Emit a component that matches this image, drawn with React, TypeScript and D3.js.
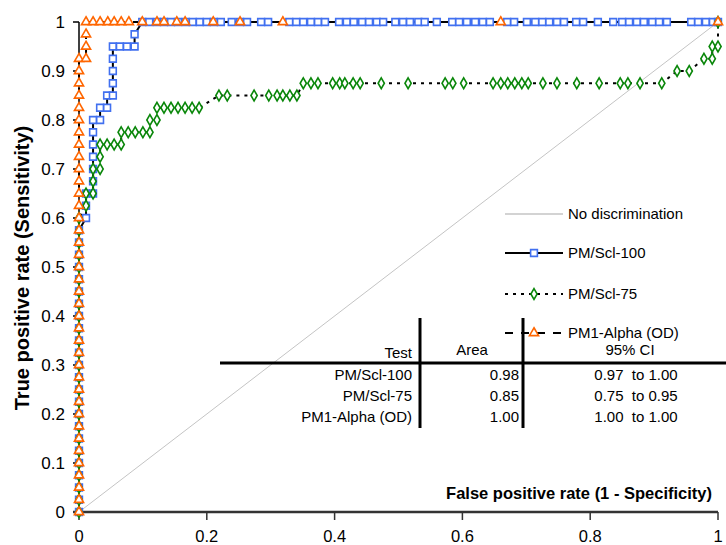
import React from 'react';
import * as d3 from 'd3';

// ROC points [fpr, tpr]
const pmScl100: [number, number][] = [
  [0, 0], [0, 0.025], [0, 0.05], [0, 0.075], [0, 0.1], [0, 0.125], [0, 0.15], [0, 0.175],
  [0, 0.2], [0, 0.225], [0, 0.25], [0, 0.275], [0, 0.3], [0, 0.325], [0, 0.35], [0, 0.375],
  [0, 0.4], [0, 0.425], [0, 0.45], [0, 0.475], [0, 0.5], [0, 0.525], [0, 0.55], [0, 0.575],
  [0.011, 0.6], [0.011, 0.625], [0.011, 0.65], [0.022, 0.65], [0.022, 0.675], [0.022, 0.7],
  [0.022, 0.725], [0.022, 0.75], [0.022, 0.775], [0.022, 0.8], [0.033, 0.8], [0.033, 0.825],
  [0.044, 0.825], [0.044, 0.85], [0.053, 0.85], [0.053, 0.875], [0.053, 0.9], [0.053, 0.925],
  [0.053, 0.95], [0.064, 0.95], [0.075, 0.95], [0.087, 0.95], [0.087, 0.975], [0.099, 1],
  [0.11, 1], [0.122, 1], [0.133, 1], [0.144, 1], [0.155, 1], [0.167, 1], [0.178, 1], [0.189, 1],
  [0.2, 1], [0.211, 1], [0.222, 1], [0.239, 1], [0.252, 1], [0.263, 1], [0.285, 1], [0.296, 1],
  [0.329, 1], [0.34, 1], [0.351, 1], [0.363, 1], [0.374, 1], [0.385, 1], [0.407, 1], [0.419, 1],
  [0.43, 1], [0.443, 1], [0.454, 1], [0.466, 1], [0.476, 1], [0.495, 1], [0.507, 1], [0.518, 1],
  [0.531, 1], [0.541, 1], [0.56, 1], [0.584, 1], [0.595, 1], [0.607, 1], [0.62, 1], [0.632, 1],
  [0.643, 1], [0.67, 1], [0.681, 1], [0.701, 1], [0.714, 1], [0.725, 1], [0.736, 1], [0.748, 1],
  [0.759, 1], [0.778, 1], [0.789, 1], [0.812, 1], [0.836, 1], [0.85, 1], [0.861, 1], [0.873, 1],
  [0.884, 1], [0.897, 1], [0.908, 1], [0.92, 1], [0.958, 1], [0.969, 1], [0.981, 1], [0.992, 1],
  [1, 1],
];

const pmScl75: [number, number][] = [
  [0, 0], [0, 0.025], [0, 0.05], [0, 0.075], [0, 0.1], [0, 0.125], [0, 0.15], [0, 0.175],
  [0, 0.2], [0, 0.225], [0, 0.25], [0, 0.275], [0, 0.3], [0, 0.325], [0, 0.35], [0, 0.375],
  [0, 0.4], [0, 0.425], [0, 0.45], [0, 0.475], [0, 0.5], [0, 0.525], [0, 0.55], [0, 0.575],
  [0, 0.6], [0.011, 0.625], [0.011, 0.65], [0.022, 0.65], [0.022, 0.675], [0.022, 0.7],
  [0.033, 0.7], [0.033, 0.725], [0.033, 0.75], [0.044, 0.75], [0.055, 0.75], [0.066, 0.75],
  [0.066, 0.775], [0.077, 0.775], [0.088, 0.775], [0.1, 0.775], [0.111, 0.775], [0.111, 0.8],
  [0.122, 0.8], [0.122, 0.825], [0.133, 0.825], [0.144, 0.825], [0.155, 0.825], [0.166, 0.825],
  [0.177, 0.825], [0.188, 0.825], [0.219, 0.85], [0.232, 0.85], [0.274, 0.85], [0.297, 0.85],
  [0.31, 0.85], [0.319, 0.85], [0.33, 0.85], [0.341, 0.85], [0.351, 0.875], [0.363, 0.875],
  [0.374, 0.875], [0.397, 0.875], [0.408, 0.875], [0.416, 0.875], [0.429, 0.875], [0.44, 0.875],
  [0.473, 0.875], [0.515, 0.875], [0.573, 0.875], [0.585, 0.875], [0.602, 0.875], [0.648, 0.875],
  [0.66, 0.875], [0.671, 0.875], [0.682, 0.875], [0.693, 0.875], [0.703, 0.875], [0.726, 0.875],
  [0.748, 0.875], [0.779, 0.875], [0.814, 0.875], [0.847, 0.875], [0.859, 0.875], [0.878, 0.875],
  [0.912, 0.875], [0.936, 0.9], [0.955, 0.9], [0.978, 0.925], [0.991, 0.925], [0.991, 0.95],
  [1, 0.95], [1, 1],
];

const pm1Alpha: [number, number][] = [
  [0, 0], [0, 0.025], [0, 0.05], [0, 0.075], [0, 0.1], [0, 0.125], [0, 0.15], [0, 0.175],
  [0, 0.2], [0, 0.225], [0, 0.25], [0, 0.275], [0, 0.3], [0, 0.325], [0, 0.35], [0, 0.375],
  [0, 0.4], [0, 0.425], [0, 0.45], [0, 0.475], [0, 0.5], [0, 0.525], [0, 0.55], [0, 0.575],
  [0, 0.6], [0, 0.625], [0, 0.65], [0, 0.675], [0, 0.7], [0, 0.725], [0, 0.75], [0, 0.775],
  [0, 0.8], [0, 0.825], [0, 0.85], [0, 0.875], [0, 0.9], [0, 0.925],
  [0.011, 0.925], [0.011, 0.95], [0.011, 0.975], [0.011, 1], [0.022, 1], [0.033, 1], [0.045, 1],
  [0.055, 1], [0.066, 1], [0.078, 1], [0.099, 1], [0.122, 1], [0.133, 1], [0.153, 1], [0.166, 1],
  [0.21, 1], [0.252, 1], [0.319, 1], [0.66, 1], [1, 1],
];

const xTicks = [0, 0.2, 0.4, 0.6, 0.8, 1];
const yTicks = [0, 0.1, 0.2, 0.3, 0.4, 0.5, 0.6, 0.7, 0.8, 0.9, 1];

const legendLabels = ['No discrimination', 'PM/Scl-100', 'PM/Scl-75', 'PM1-Alpha (OD)'];
const tableTests = ['PM/Scl-100', 'PM/Scl-75', 'PM1-Alpha (OD)'];
const tableAreas = ['0.98', '0.85', '1.00'];
const tableCIs = ['0.97  to 1.00', '0.75  to 0.95', '1.00  to 1.00'];

const FONT = '"Liberation Sans", Arial, sans-serif';

const series = [
  { name: 'PM/Scl-100', data: pmScl100, colour: '#4170f0', symbol: d3.symbolSquare, size: 46, dash: 'none' },
  { name: 'PM/Scl-75', data: pmScl75, colour: '#0a870a', symbol: d3.symbolDiamond, size: 34, dash: '3 5' },
  { name: 'PM1-Alpha (OD)', data: pm1Alpha, colour: '#ff6600', symbol: d3.symbolTriangle, size: 36, dash: '8 8' },
];

const App = () => {
  const x = d3.scaleLinear().domain([0, 1]).range([79, 718]);
  const y = d3.scaleLinear().domain([0, 1]).range([512, 22]);
  const line = d3.line<[number, number]>().x(d => x(d[0])).y(d => y(d[1]));

  const legendY = [214, 253, 294, 333];
  const rowY = [375, 396, 417];

  return (
    <svg width={726} height={545} style={{ position: 'absolute', left: 0, top: 0, background: '#fff' }}
      fontFamily={FONT}>
      {/* diagonal */}
      <line x1={x(0)} y1={y(0)} x2={x(1)} y2={y(1)} stroke="#c4c4c4" strokeWidth={1} />

      {/* y axis */}
      <line x1={x(0)} y1={y(0)} x2={x(0)} y2={y(1)} stroke="#000" strokeWidth={1.5} />
      {yTicks.map(t => (
        <g key={t}>
          <line x1={x(0) - 6} x2={x(0)} y1={y(t)} y2={y(t)} stroke="#000" strokeWidth={1.5} />
          <text x={65} y={y(t)} dy="0.35em" textAnchor="end" fontSize={17}>{t}</text>
        </g>
      ))}

      {/* x axis */}
      <line x1={x(0) - 6} y1={y(0)} x2={x(1)} y2={y(0)} stroke="#333" strokeWidth={2.5} />
      {xTicks.map(t => (
        <g key={t}>
          <line x1={x(t)} x2={x(t)} y1={y(0)} y2={y(0) + 8} stroke="#333" strokeWidth={1.5} />
          <text x={x(t)} y={536} dy="0.35em" textAnchor="middle" fontSize={16.5}>{t}</text>
        </g>
      ))}

      <text x={712} y={493} dy="0.35em" textAnchor="end" fontSize={16.5} fontWeight="bold">
        False positive rate (1 - Specificity)
      </text>
      <text transform="translate(22,268) rotate(-90)" dy="0.35em" textAnchor="middle" fontSize={20} fontWeight="bold">
        True positive rate (Sensitivity)
      </text>

      {/* curves */}
      {series.map(s => (
        <path key={s.name} d={line(s.data) || ''} fill="none" stroke="#000" strokeWidth={2}
          strokeDasharray={s.dash} />
      ))}
      {series.map(s => (
        <g key={s.name + '-m'}>
          {s.data.map((d, i) => (
            <path key={i} transform={`translate(${x(d[0])},${y(d[1])})`}
              d={d3.symbol(s.symbol, s.size)() || ''} fill="#fff" stroke={s.colour} strokeWidth={1.6} />
          ))}
        </g>
      ))}

      {/* legend */}
      <line x1={505} x2={563} y1={legendY[0]} y2={legendY[0]} stroke="#c4c4c4" strokeWidth={1.5} />
      {series.map((s, i) => (
        <g key={s.name + '-l'}>
          <line x1={505} x2={563} y1={legendY[i + 1]} y2={legendY[i + 1]} stroke="#000" strokeWidth={2}
            strokeDasharray={s.dash} />
          <path transform={`translate(534,${legendY[i + 1]})`} d={d3.symbol(s.symbol, s.size)() || ''}
            fill="#fff" stroke={s.colour} strokeWidth={1.6} />
        </g>
      ))}
      {legendLabels.map((l, i) => (
        <text key={l} x={568} y={legendY[i]} dy="0.35em" fontSize={15}>{l}</text>
      ))}

      {/* table */}
      <line x1={220} x2={726} y1={363} y2={363} stroke="#000" strokeWidth={3} />
      <line x1={420} x2={420} y1={318} y2={428} stroke="#000" strokeWidth={3} />
      <line x1={523} x2={523} y1={318} y2={428} stroke="#000" strokeWidth={3} />
      <text x={412} y={353} dy="0.35em" textAnchor="end" fontSize={15}>Test</text>
      <text x={472} y={350} dy="0.35em" textAnchor="middle" fontSize={15}>Area</text>
      <text x={630} y={350} dy="0.35em" textAnchor="middle" fontSize={15}>95% CI</text>
      {tableTests.map((t, i) => (
        <g key={t + '-r'}>
          <text x={412} y={rowY[i]} dy="0.35em" textAnchor="end" fontSize={15}>{t}</text>
          <text x={519} y={rowY[i]} dy="0.35em" textAnchor="end" fontSize={15}>{tableAreas[i]}</text>
          <text x={636} y={rowY[i]} dy="0.35em" textAnchor="middle" fontSize={15} style={{ whiteSpace: 'pre' }}>
            {tableCIs[i]}
          </text>
        </g>
      ))}
    </svg>
  );
};

export default App;
